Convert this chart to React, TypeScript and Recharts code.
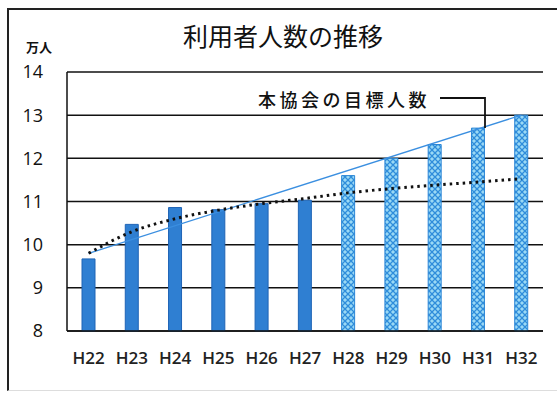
import React from "react";
import { ComposedChart, Bar, Line, XAxis, YAxis, CartesianGrid, Cell } from "recharts";

const years = ["H22", "H23", "H24", "H25", "H26", "H27", "H28", "H29", "H30", "H31", "H32"];
const users = [9.67, 10.47, 10.86, 10.81, 10.95, 11.03, 11.6, 12.0, 12.32, 12.7, 13.0];
const isPlan = [false, false, false, false, false, false, true, true, true, true, true];
const trend = [9.8, 10.3, 10.6, 10.8, 10.95, 11.07, 11.2, 11.3, 11.38, 11.45, 11.53];
const target = [9.8, null, null, null, null, null, null, null, null, null, 13.0];
const yTicks = [8, 9, 10, 11, 12, 13, 14];

const data = years.map((y, i) => ({ year: y, users: users[i], trend: trend[i], target: target[i] }));

const JP = "'Noto Sans CJK JP', 'Noto Sans', sans-serif";
const NUM = "'Open Sans', 'Noto Sans', sans-serif";

export default function App() {
  return (
    <div style={{ position: "absolute", left: 0, top: 0, width: 557, height: 394, background: "#fff" }}>
      <svg width={0} height={0} style={{ position: "absolute" }}>
        <defs>
          <pattern id="plan" width={6} height={6} patternUnits="userSpaceOnUse">
            <rect width={6} height={6} fill="#9ad9f5" />
            <path d="M0,0 L6,6 M6,0 L0,6" stroke="#2f8ddb" strokeWidth={1.3} />
          </pattern>
        </defs>
      </svg>
      {/* outer frame */}
      <div style={{ position: "absolute", left: 7, top: 8, width: 560, height: 380, borderLeft: "2px solid #222", borderTop: "2px solid #222", borderBottom: "1px solid #ddd" }} />
      <div style={{ position: "absolute", left: 0, top: 17, width: 566, textAlign: "center", fontFamily: JP, fontSize: 25, color: "#111" }}>
        利用者人数の推移
      </div>
      <div style={{ position: "absolute", left: 26, top: 37, fontFamily: JP, fontSize: 13, fontWeight: 700, color: "#111" }}>
        万人
      </div>
      <ComposedChart
        width={557}
        height={394}
        data={data}
        margin={{ top: 72, right: 14, bottom: 0, left: 0 }}
        style={{ position: "absolute", left: 0, top: 0 }}
      >
        <CartesianGrid yAxisId="l" vertical={false} stroke="#111" strokeWidth={1.5} />
        <XAxis
          dataKey="year"
          height={63}
          axisLine={{ stroke: "#111", strokeWidth: 1.5 }}
          tickLine={false}
          tickMargin={15}
          tick={{ fill: "#222", fontSize: 17, fontWeight: 600, fontFamily: NUM }}
        />
        <YAxis
          yAxisId="l"
          width={67}
          domain={[8, 14]}
          ticks={yTicks}
          interval={0}
          axisLine={{ stroke: "#111", strokeWidth: 1.5 }}
          tickLine={false}
          tickMargin={18}
          tick={{ fill: "#111", fontSize: 18, fontFamily: NUM }}
        />
        <YAxis
          yAxisId="r"
          orientation="right"
          width={0}
          domain={[8, 14]}
          ticks={yTicks}
          axisLine={{ stroke: "#111", strokeWidth: 1.5 }}
          tickLine={false}
          tick={false}
        />
        <Bar yAxisId="l" dataKey="users" barSize={13} isAnimationActive={false}>
          {data.map((d, i) => (
            <Cell
              key={d.year}
              fill={isPlan[i] ? "url(#plan)" : "#2f7fd2"}
              stroke={isPlan[i] ? "#2b86d6" : "#1f64b5"}
              strokeWidth={1}
            />
          ))}
        </Bar>
        <Line
          yAxisId="l"
          dataKey="target"
          connectNulls
          stroke="#3b8fe0"
          strokeWidth={1.3}
          dot={false}
          isAnimationActive={false}
        />
        <Line
          yAxisId="l"
          dataKey="trend"
          stroke="#111"
          strokeWidth={3}
          strokeDasharray="2.5 4"
          dot={false}
          type="monotone"
          isAnimationActive={false}
        />
      </ComposedChart>
      <div style={{ position: "absolute", left: 258, top: 86, fontFamily: JP, fontSize: 18, fontWeight: 500, color: "#111", letterSpacing: 3.5 }}>
        本協会の目標人数
      </div>
      <svg width={557} height={394} style={{ position: "absolute", left: 0, top: 0, pointerEvents: "none" }}>
        <path d="M440,98 L485,98 L485,128" fill="none" stroke="#111" strokeWidth={1.8} />
      </svg>
    </div>
  );
}
